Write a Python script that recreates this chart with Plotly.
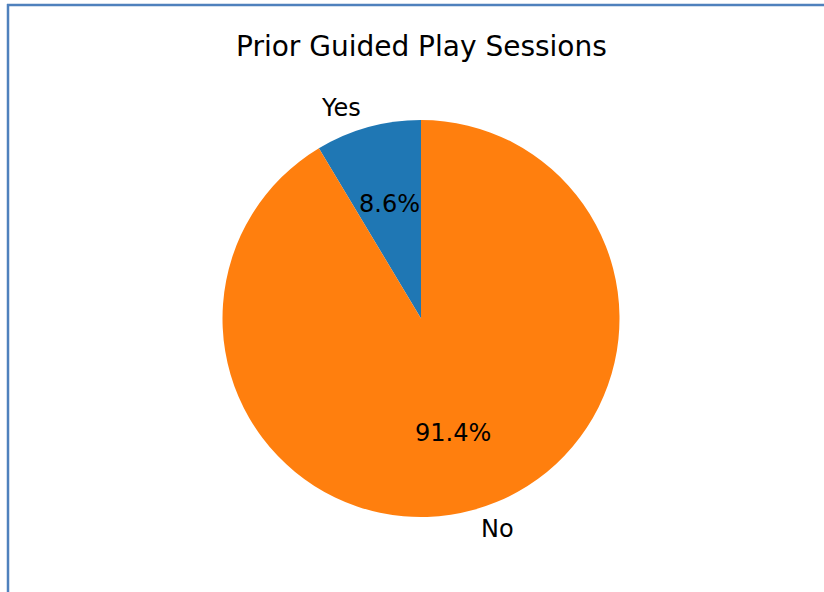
import math
import plotly.graph_objects as go

labels = ["Yes", "No"]
values = [8.6, 91.4]
colors = ["#1f77b4", "#ff7f0e"]
title = "Prior Guided Play Sessions"

W, H = 824, 592
cx, cy, r = 421, 318.5, 198.5  # pixel centre and radius of the pie

total = sum(values)
# first slice should run counter-clockwise from 12 o'clock (matplotlib startangle=90)
rot = -360 * values[0] / total

fig = go.Figure(go.Pie(
    labels=labels, values=values, sort=False, direction="clockwise",
    rotation=rot, textinfo="none", hoverinfo="label+percent",
    marker=dict(colors=colors, line=dict(width=0)),
    domain=dict(x=[(cx - r) / W, (cx + r) / W], y=[1 - (cy + r) / H, 1 - (cy - r) / H]),
    showlegend=False,
))

font = dict(family="DejaVu Sans", size=24, color="black")
ann = []
start = 90.0
for lab, v in zip(labels, values):
    frac = v / total
    mid = math.radians(start + 180 * frac)
    start += 360 * frac
    c, s = math.cos(mid), math.sin(mid)
    lx, ly = cx + 1.1 * r * c, cy - 1.1 * r * s
    ann.append(dict(x=lx / W, y=1 - ly / H, xref="paper", yref="paper", text=lab,
                    showarrow=False, font=font, xanchor="right" if c < 0 else "left",
                    yanchor="middle"))
    px, py = cx + 0.6 * r * c, cy - 0.6 * r * s
    ann.append(dict(x=px / W, y=1 - py / H, xref="paper", yref="paper",
                    text=f"{100 * frac:.1f}%", showarrow=False, font=font,
                    xanchor="center", yanchor="middle"))

ann.append(dict(x=cx / W, y=1 - 46 / H, xref="paper", yref="paper", text=title,
                showarrow=False, font=dict(family="DejaVu Sans", size=28, color="black"),
                xanchor="center", yanchor="middle"))

fig.update_layout(
    width=W, height=H, margin=dict(l=0, r=0, t=0, b=0),
    paper_bgcolor="white", plot_bgcolor="white",
    annotations=ann,
    shapes=[
        dict(type="line", xref="paper", yref="paper", x0=8 / W, x1=8 / W, y0=0, y1=1 - 4 / H,
             line=dict(color="#4f81bd", width=2.5)),
        dict(type="line", xref="paper", yref="paper", x0=7 / W, x1=1, y0=1 - 5 / H, y1=1 - 5 / H,
             line=dict(color="#4f81bd", width=2.5)),
    ],
)

fig.write_html("out.html", config={"displayModeBar": False},
               post_script="document.body.style.margin='0';document.body.style.overflow='hidden';")
